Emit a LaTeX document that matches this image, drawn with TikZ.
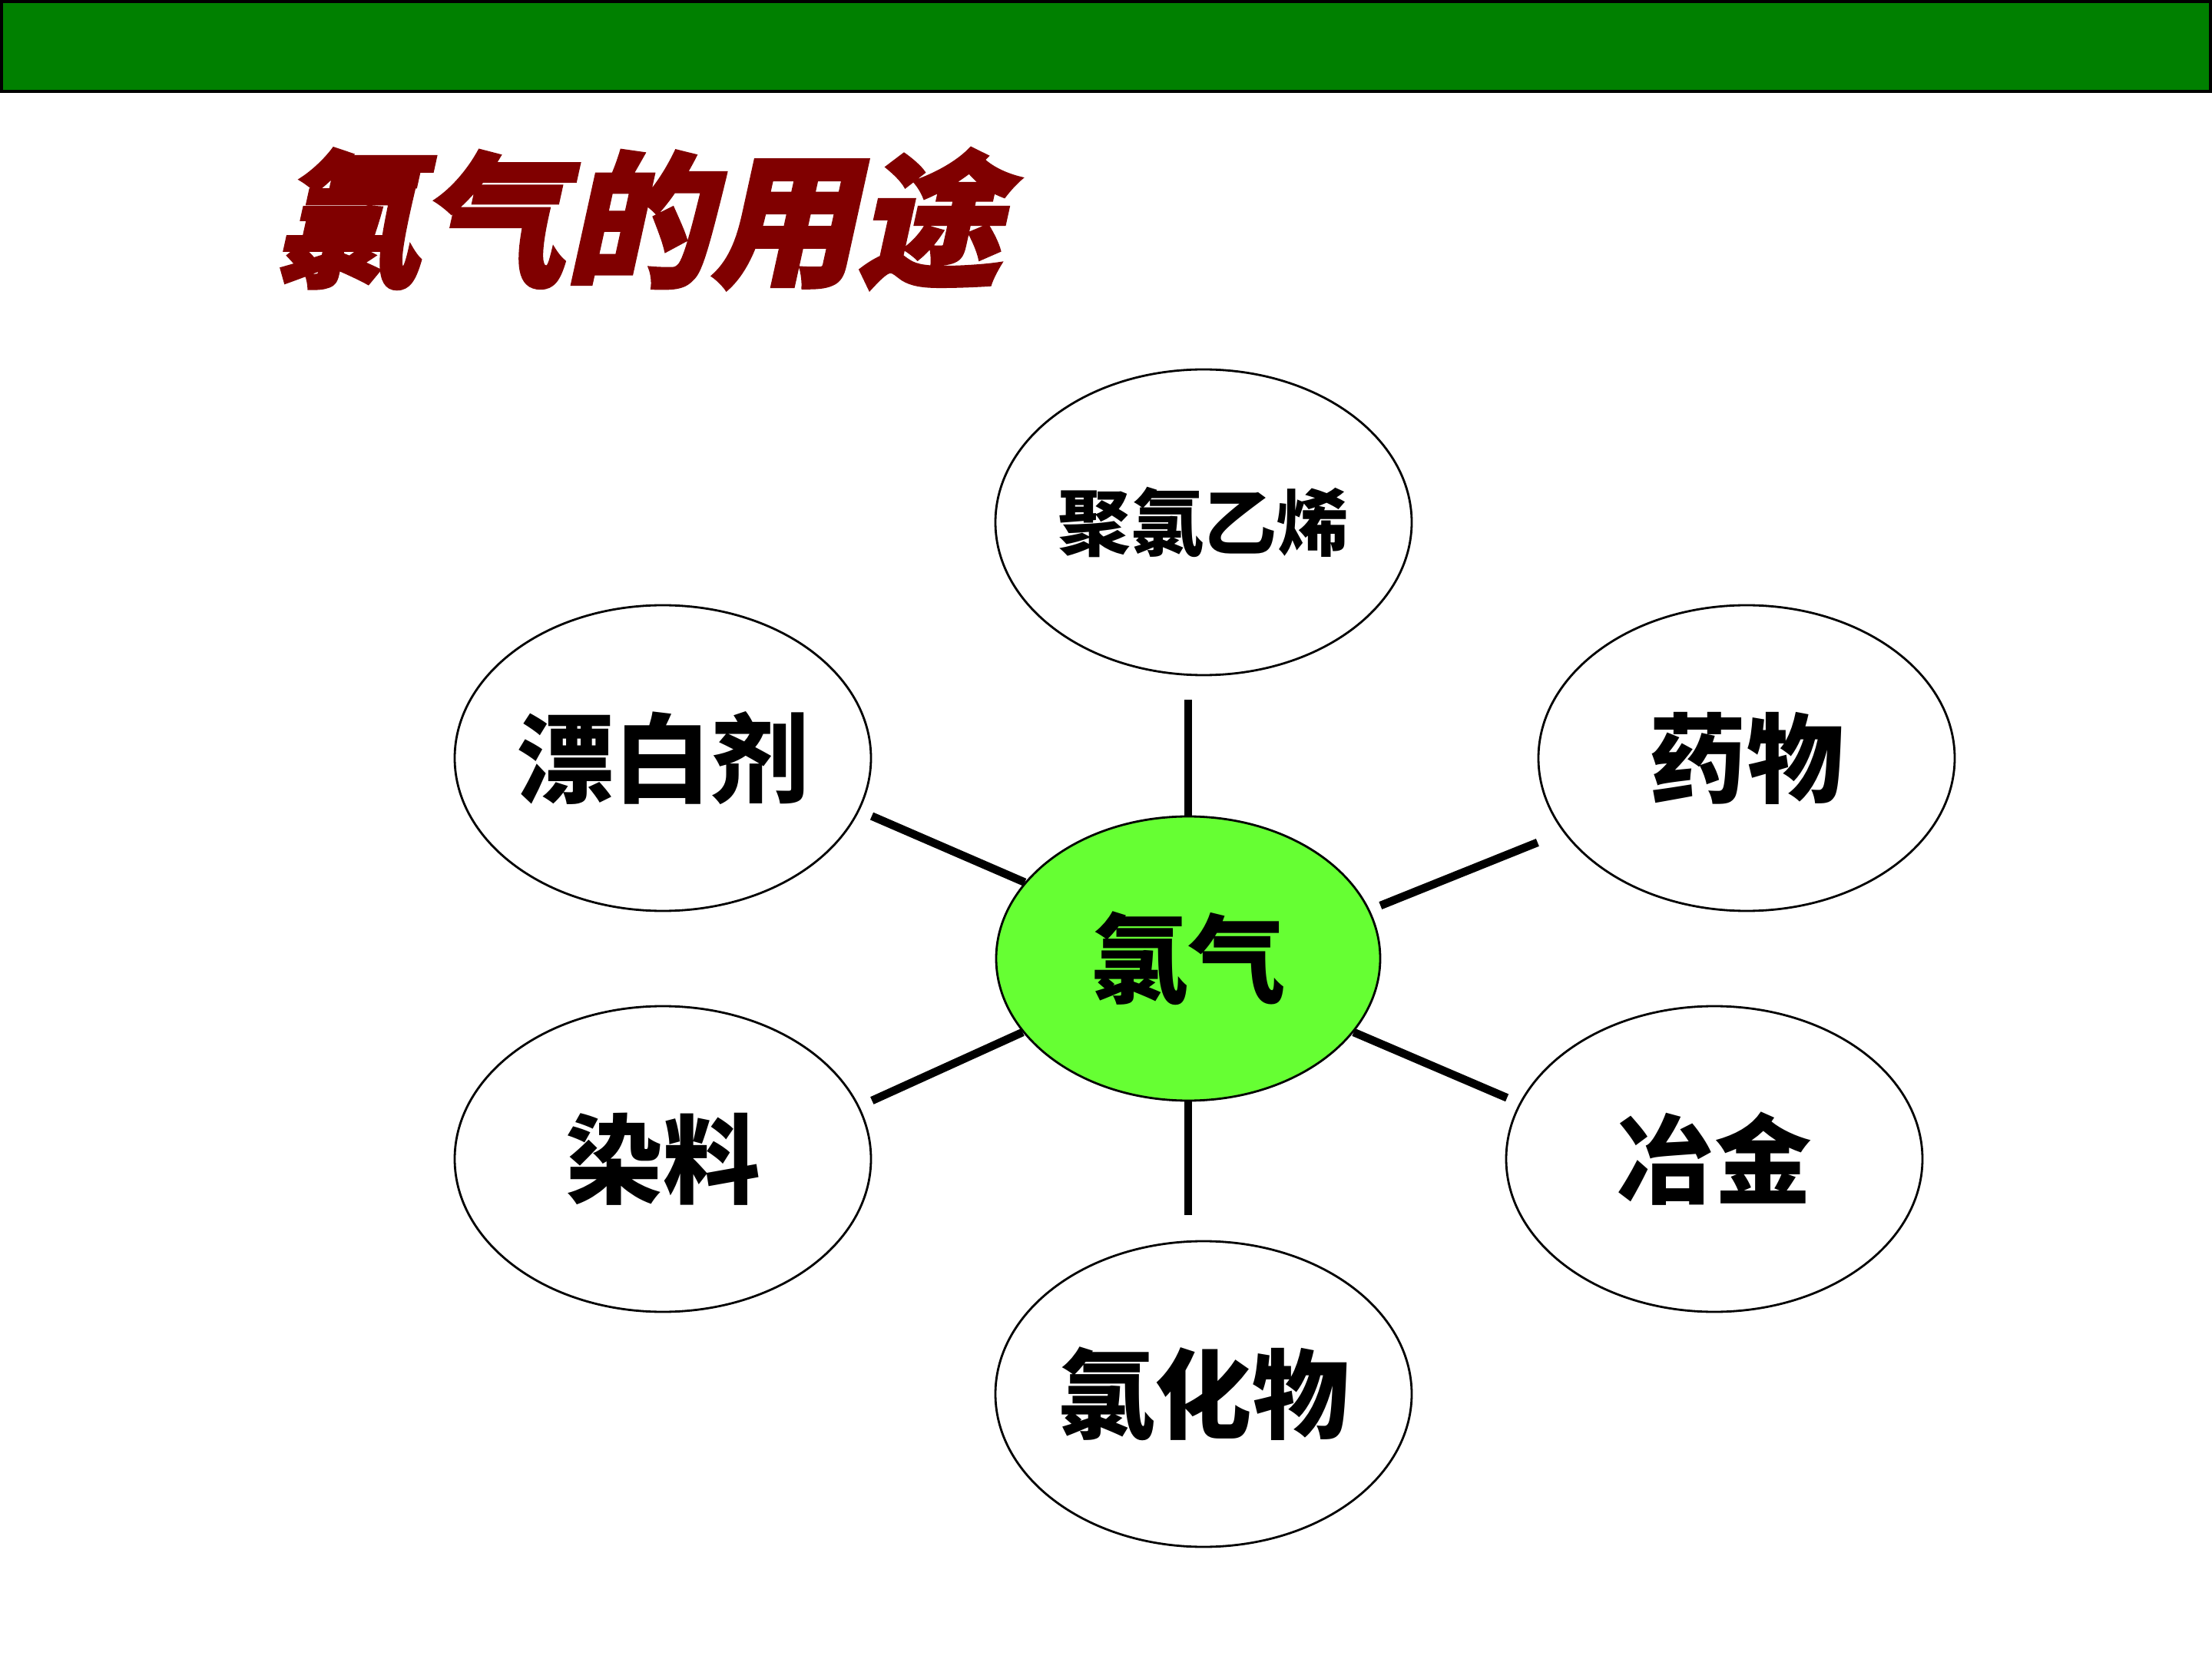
\documentclass[tikz,border=0pt]{standalone}
\usepackage{fontspec}
\setmainfont{Noto Sans CJK SC}
\newfontfamily\ttlfont[FakeSlant=0.22,FakeBold=2]{Noto Sans CJK SC}
\usetikzlibrary{shapes.geometric}
\definecolor{barGreen}{RGB}{0,128,0}
\definecolor{clGreen}{RGB}{102,255,51}
\definecolor{ttlRed}{RGB}{128,0,0}
\newcommand{\bigtxt}{\fontsize{36}{40}\selectfont\bfseries}
\newcommand{\midtxt}{\fontsize{27}{30}\selectfont\bfseries}

\begin{document}
\begin{tikzpicture}[
  usebox/.style = {ellipse, draw, line width=0.8pt, inner sep=0pt,
                   minimum width=54.2mm, minimum height=39.8mm, font=\bigtxt},
  hub/.style    = {usebox, fill=clGreen, minimum width=50mm, minimum height=37mm},
  lnk/.style    = {line width=3pt}
]
\useasboundingbox (0,0) rectangle (28.8,-21.6);

% ---------- header bar and title ------------------------------------
\path[fill=barGreen, draw=black, line width=1.1pt] (0.02,-0.02) rectangle (28.78,-1.19);
\node[text=ttlRed, font=\ttlfont\bfseries\fontsize{54}{58}\selectfont] (title) at (8.30,-2.85) {氯气的用途};

% ---------- centre and uses -----------------------------------------
\node[hub] (cl) at (15.47,-12.48) {氯气};
\node[usebox, font=\midtxt] (pvc) at (15.67,-6.80) {\raisebox{-2.5mm}{聚氯乙烯}};
\node[usebox] (blch) at ( 8.63,-9.87)  {漂白剂};
\node[usebox] (med)  at (22.74,-9.87)  {药物};
\node[usebox] (dye)  at ( 8.63,-15.09) {染料};
\node[usebox] (met)  at (22.32,-15.09) {冶金};
\node[usebox] (chl)  at (15.67,-18.15) {氯化物};

% ---------- spokes ---------------------------------------------------
\draw[lnk, shorten >=3.1mm] (cl.north) -- (cl.north |- pvc.south);
\draw[lnk, shorten >=3.3mm] (cl.south) -- (cl.south |- chl.north);
\foreach \a/\n/\b/\t/\s in {155/blch/-15/0mm/1.75mm, 15/med/202/1.5mm/3.6mm,
                            204/dye/15/0mm/1.8mm, 336/met/164/0mm/1.75mm}{
  \draw[lnk, shorten <=\t, shorten >=\s] (cl.\a) -- (\n.\b);}

\end{tikzpicture}
\end{document}
